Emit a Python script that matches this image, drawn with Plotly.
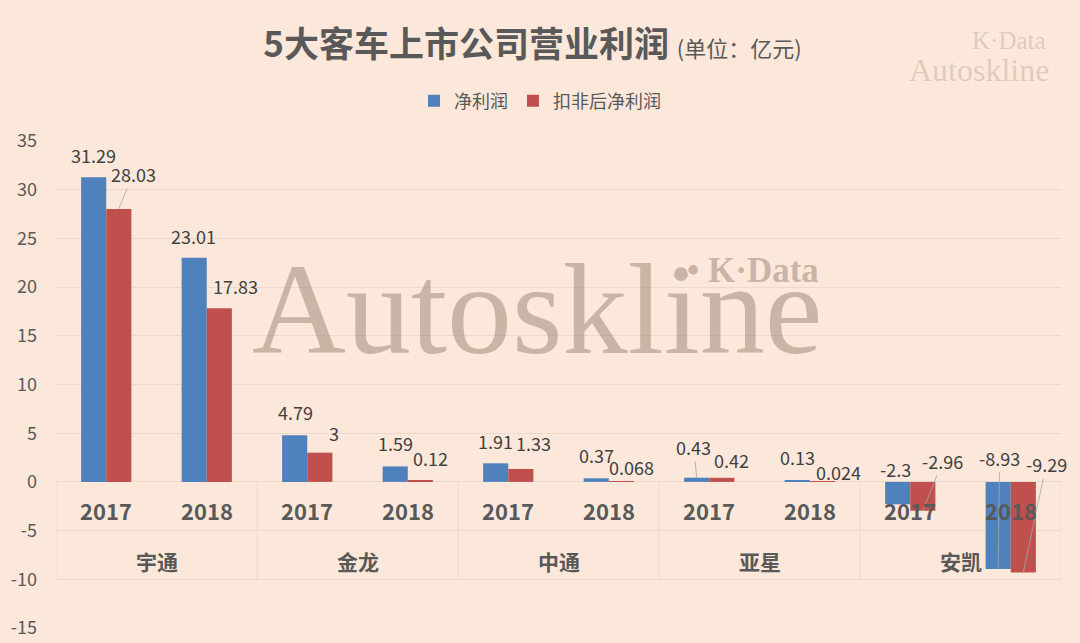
import plotly.graph_objects as go

# ---- data ----
companies = ["宇通", "金龙", "中通", "亚星", "安凯"]
years = ["2017", "2018"]
net_profit = [31.29, 23.01, 4.79, 1.59, 1.91, 0.37, 0.43, 0.13, -2.3, -8.93]
net_profit_deducted = [28.03, 17.83, 3, 0.12, 1.33, 0.068, 0.42, 0.024, -2.96, -9.29]
series_names = ["净利润", "扣非后净利润"]
y_ticks = [-15, -10, -5, 0, 5, 10, 15, 20, 25, 30, 35]

# ---- style ----
BG = "#FCE8DA"
GRID = "#EADACE"
BLUE = "#4F81BD"
RED = "#C0504D"
TXT = "#595959"
LBL = "#404040"
CJK = "Noto Sans CJK SC"
SERIF = "Liberation Serif"

cats = [f"{c}-{y}" for c in companies for y in years]

# label offsets (dx, dy in px from bar end; leader line flag)
net_off = [(0, 22, 0), (-1, 22, 0), (1, 23, 0), (0, 23, 0), (0, 22, 0),
           (0, 23, 0), (-3, 31, 1), (0, 24, 0), (-2, 35, 0), (1.5, 111, 1)]
ded_off = [(14.5, 35, 1), (16, 22, 0), (14, 20, 0), (10, 23, 0), (13, 26, 0),
           (10, 14, 0), (10, 18, 0), (16, 10, 0), (20, 50, 1), (23, 108, 1)]

fig = go.Figure()
fig.add_trace(go.Bar(x=cats, y=net_profit, name=series_names[0], marker_color=BLUE,
                     marker_line_width=0, hoverinfo="x+y"))
fig.add_trace(go.Bar(x=cats, y=net_profit_deducted, name=series_names[1], marker_color=RED,
                     marker_line_width=0, hoverinfo="x+y"))

ann = []

def fmt(v):
    return f"{v:g}"

for series, offs, shift in ((net_profit, net_off, -0.125), (net_profit_deducted, ded_off, 0.125)):
    for i, v in enumerate(series):
        dx, dy, leader = offs[i]
        if leader:
            ann.append(dict(x=i + shift, y=v, xref="x", yref="y", text=fmt(v),
                            showarrow=True, arrowhead=0, arrowwidth=0.8, arrowcolor="#A6A6A6",
                            ax=dx, ay=-dy, font=dict(family=CJK, size=18, color=LBL)))
        else:
            ann.append(dict(x=i + shift, y=v, xref="x", yref="y", text=fmt(v),
                            showarrow=False, xshift=dx, yshift=dy, yanchor="middle",
                            font=dict(family=CJK, size=18, color=LBL)))

# category table labels
for i, c in enumerate(cats):
    ann.append(dict(x=i, y=-2.5, xref="x", yref="y", text=f"<b>{c.split('-')[1]}</b>",
                    showarrow=False, yshift=-4, yanchor="middle",
                    font=dict(family=CJK, size=22, color=TXT)))
for k, c in enumerate(companies):
    ann.append(dict(x=2 * k + 0.5, y=-7.5, xref="x", yref="y", text=f"<b>{c}</b>",
                    showarrow=False, yshift=-6, yanchor="middle",
                    font=dict(family=CJK, size=21, color=TXT)))

# watermarks (paper coords; plot domain spans px 56..1061 horizontally, 141..628 vertically)
def px(xp):
    return (xp - 56) / 1005

def py(yp):
    return (628 - yp) / 487

WM = "rgba(150,128,112,0.5)"
WM2 = "rgba(150,128,112,0.3)"
ann.append(dict(x=px(537), y=py(309), xref="paper", yref="paper", xanchor="center", yanchor="middle",
                text="Autoskline", showarrow=False, font=dict(family=SERIF, size=130, color=WM)))
ann.append(dict(x=px(821), y=py(270), xref="paper", yref="paper", xanchor="right", yanchor="middle",
                text="<b>• K·Data</b>", showarrow=False, font=dict(family=SERIF, size=35, color=WM)))
ann.append(dict(x=px(1048), y=py(40), xref="paper", yref="paper", xanchor="right", yanchor="middle",
                text="K·Data", showarrow=False, font=dict(family=SERIF, size=25, color=WM2)))
ann.append(dict(x=px(1051), y=py(70), xref="paper", yref="paper", xanchor="right", yanchor="middle",
                text="Autoskline", showarrow=False, font=dict(family=SERIF, size=32, color=WM2)))

# table vertical lines
shapes = []
for k in range(len(companies) + 1):
    shapes.append(dict(type="line", xref="x", yref="y", x0=2 * k - 0.5, x1=2 * k - 0.5,
                       y0=0, y1=-10, line=dict(color=GRID, width=1), layer="below"))

fig.update_layout(
    width=1080, height=643,
    paper_bgcolor=BG, plot_bgcolor=BG,
    margin=dict(l=56, r=19, t=141, b=15),
    barmode="group", bargap=0.5, bargroupgap=0,
    title=dict(
        text="<b>5大客车上市公司营业利润</b> <span style='font-size:22px;font-weight:normal'>(单位：亿元)</span>",
        x=0.493, xanchor="center", y=1 - 45 / 643, yanchor="middle",
        font=dict(family=CJK, size=35, color=TXT)),
    legend=dict(orientation="h", x=540 / 1080, xanchor="center", xref="container",
                y=1 - 101 / 643, yanchor="middle", yref="container",
                font=dict(family=CJK, size=18, color=TXT), bgcolor="rgba(0,0,0,0)",
                itemwidth=30, traceorder="normal"),
    xaxis=dict(type="category", range=[-0.5, 9.5], showticklabels=False, showgrid=False,
               zeroline=False, showline=False, ticks="", automargin=False),
    yaxis=dict(range=[-15, 35], tickvals=y_ticks, ticktext=[str(v) for v in y_ticks],
               showgrid=True, gridcolor=GRID, gridwidth=1,
               zeroline=True, zerolinecolor=GRID, zerolinewidth=1, showline=False, ticks="",
               ticklabelstandoff=18, automargin=False,
               tickfont=dict(family=CJK, size=18, color=TXT)),
    annotations=ann, shapes=shapes,
    showlegend=True,
)

fig.write_html("out.html", config={"displayModeBar": False},
               post_script="document.body.style.margin='0';document.body.style.background='%s';" % BG)
